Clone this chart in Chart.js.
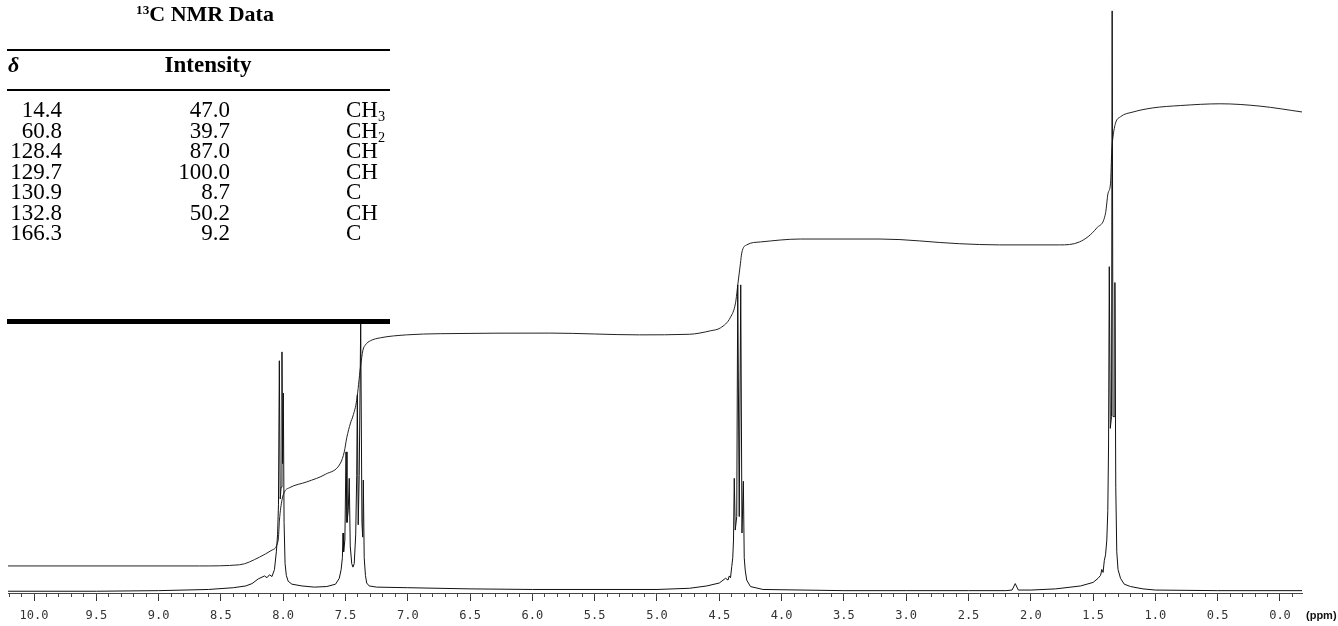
<!DOCTYPE html>
<html>
<head>
<meta charset="utf-8">
<title>1H NMR spectrum</title>
<script src="https://cdn.jsdelivr.net/npm/chart.js@4.4.1/dist/chart.umd.min.js"></script>
<style>
  body { margin: 0; background: #fff; }
  #wrap { position: relative; width: 1338px; height: 626px; overflow: hidden; }
  #myChart { position: absolute; left: 0; top: 0; }
  #tbl { position: absolute; left: 0; top: 0; width: 400px; height: 330px;
         font-family: "Liberation Serif", "Times New Roman", serif; color: #000; }
  #tbl div { position: absolute; white-space: nowrap; }
  #tbl .rule { background: #000; left: 7px; width: 383px; }
  #tbl sub { font-size: 0.62em; vertical-align: -0.3em; line-height: 0; }
  #tbl sup { font-size: 0.6em; vertical-align: 0.55em; line-height: 0; }
  #ppm { position: absolute; left: 1306px; top: 609px; font: bold 11px "Liberation Sans", Arial, sans-serif; color: #111; }
</style>
</head>
<body>
<div id="wrap">
  <canvas id="myChart" width="1338" height="626"></canvas>
  <div id="tbl"></div>
  <div id="ppm">(ppm)</div>
</div>
<script>
// 13C table
var cShift     = ["14.4", "60.8", "128.4", "129.7", "130.9", "132.8", "166.3"];
var cIntensity = ["47.0", "39.7", "87.0", "100.0", "8.7", "50.2", "9.2"];
var cType      = ["CH3", "CH2", "CH", "CH", "C", "CH", "C"];

// 1H spectrum trace (ppm, height)
var specPpm = [10.21, 9.50, 9.00, 8.60, 8.40, 8.30, 8.25, 8.20, 8.15, 8.13, 8.11, 8.09, 8.07, 8.055,
  8.045, 8.038, 8.031, 8.024, 8.017, 8.010, 8.005, 7.999, 7.993, 7.985, 7.975, 7.96, 7.93, 7.85, 7.75, 7.65,
  7.58, 7.55, 7.535, 7.525, 7.520, 7.515, 7.505, 7.496, 7.488, 7.478, 7.470, 7.462, 7.450, 7.440, 7.430,
  7.418, 7.410, 7.405, 7.398, 7.390, 7.378, 7.368, 7.362, 7.357, 7.350, 7.340, 7.330, 7.31, 7.25, 7.00,
  6.50, 6.00, 5.00, 4.74, 4.60, 4.50, 4.45, 4.43, 4.42, 4.41, 4.40, 4.392, 4.386, 4.380, 4.372, 4.360,
  4.352, 4.340, 4.328, 4.318, 4.307, 4.300, 4.292, 4.28, 4.25, 4.15, 3.50, 3.00, 2.50, 2.20, 2.15, 2.125,
  2.10, 2.00, 1.80, 1.60, 1.50, 1.46, 1.44, 1.43, 1.42, 1.41, 1.40, 1.39, 1.382, 1.376, 1.370, 1.362,
  1.352, 1.347, 1.340, 1.330, 1.325, 1.318, 1.310, 1.30, 1.28, 1.25, 1.20, 1.10, 1.00, 0.50, 0.00, -0.18];
var specVal = [0.3, 0.3, 0.4, 0.6, 0.9, 1.2, 1.6, 2.4, 2.9, 2.6, 3.1, 2.8, 4.0, 7.0,
  10, 15, 39.5, 16, 18, 41, 22, 34, 12, 5, 3, 2, 1.5, 1.2, 1.0, 1.1,
  1.5, 2.5, 4, 6, 10.2, 7, 9, 24, 12, 14, 19.5, 8, 5, 4.4, 5,
  10, 20, 33.7, 11.6, 20, 46, 12, 9.5, 19.2, 6, 3.0, 1.7, 1.2, 1.0, 0.9,
  0.7, 0.6, 0.6, 0.8, 1.2, 1.7, 2.5, 2.2, 2.9, 2.6, 4.5, 6, 9, 19.5, 10.7, 13,
  52.4, 13, 52.4, 10.2, 19, 6, 3.9, 2.2, 1.1, 0.6, 0.4, 0.4, 0.4, 0.4, 0.5, 1.6,
  0.5, 0.5, 0.7, 1.2, 1.8, 2.5, 3.0, 4.0, 3.5, 5.5, 6.5, 9, 14, 25, 55.5, 28,
  30, 99, 30, 30, 52.8, 18, 7, 4, 2.5, 1.5, 1.1, 0.7, 0.5, 0.4, 0.4, 0.4];

// integral trace (ppm, height)
var integPpm = [10.21, 8.67, 8.35, 8.19, 8.09, 8.04, 8.03, 8.01, 7.99, 7.95, 7.81, 7.66, 7.54, 7.51,
  7.49, 7.46, 7.44, 7.41, 7.38, 7.36, 7.34, 7.30, 7.22, 7.01, 6.74, 5.86, 5.14, 4.74, 4.57, 4.49, 4.41,
  4.37, 4.35, 4.33, 4.32, 4.28, 4.17, 3.85, 3.21, 2.57, 2.25, 1.77, 1.61, 1.47, 1.40, 1.38, 1.36, 1.35,
  1.34, 1.32, 1.28, 1.18, 1.02, 0.80, 0.48, 0.16, -0.18];
var integVal = [4.6, 4.6, 4.8, 6.1, 7.3, 9.0, 12.4, 15.8, 17.2, 17.9, 18.9, 20.2, 22.1, 24.0,
  26.4, 28.9, 30.1, 32.8, 38.4, 41.3, 42.2, 42.9, 43.4, 43.9, 44.1, 44.2, 43.9, 44.0, 44.6, 45.1, 46.9,
  49.3, 52.7, 56.1, 57.8, 59.2, 59.7, 60.2, 60.2, 59.4, 59.2, 59.2, 59.7, 62.1, 64.6, 68.0, 69.7, 75.3,
  77.6, 79.9, 81.0, 81.8, 82.5, 82.9, 83.2, 82.8, 81.8];

var ppmMin = -0.1766;
var ppmMax = 10.2087;

// table
var tbl = document.getElementById("tbl");
function put(html, x, y, align, style) {
  var d = document.createElement("div");
  d.innerHTML = html;
  d.style.top = (y - 13) + "px";
  d.style.lineHeight = "26px";
  if (align == "right") {
    d.style.left = (x - 200) + "px";
    d.style.width = "200px";
    d.style.textAlign = "right";
  } else if (align == "center") {
    d.style.left = (x - 150) + "px";
    d.style.width = "300px";
    d.style.textAlign = "center";
  } else {
    d.style.left = x + "px";
  }
  d.style.cssText += style || "";
  tbl.appendChild(d);
}
function rule(y, h) {
  var r = document.createElement("div");
  r.className = "rule";
  r.style.top = y + "px";
  r.style.height = h + "px";
  tbl.appendChild(r);
}
put("<sup>13</sup>C NMR Data", 205, 14, "center", "font-weight:bold;font-size:22px;");
rule(49, 1.5);
put("&delta;", 8, 65, "left", "font-weight:bold;font-style:italic;font-size:22px;");
put("Intensity", 208, 65, "center", "font-weight:bold;font-size:23px;");
rule(89, 1.5);
for (var i = 0; i < cShift.length; i++) {
  var y = 110 + i * 20.5;
  put(cShift[i], 62, y, "right", "font-size:23px;");
  put(cIntensity[i], 230, y, "right", "font-size:23px;");
  put(cType[i].replace(/(\d)/g, "<sub>$1</sub>"), 346, y, "left", "font-size:23px;");
}
rule(319, 4.5);

// chart
var specData = [];
for (var i = 0; i < specPpm.length; i++) specData.push({ x: specPpm[i], y: specVal[i] });
var integData = [];
for (var i = 0; i < integPpm.length; i++) integData.push({ x: integPpm[i], y: integVal[i] });

new Chart("myChart", {
  type: "line",
  data: {
    datasets: [{
      data: specData,
      borderColor: "#111",
      borderWidth: 1,
      pointRadius: 0,
      tension: 0
    }, {
      data: integData,
      borderColor: "#222",
      borderWidth: 1,
      pointRadius: 0,
      cubicInterpolationMode: "monotone"
    }]
  },
  options: {
    responsive: false,
    animation: false,
    events: [],
    layout: { padding: { left: 8, right: 36, top: 5, bottom: 0 } },
    plugins: { legend: { display: false }, tooltip: { enabled: false } },
    scales: {
      x: {
        type: "linear",
        reverse: true,
        min: ppmMin,
        max: ppmMax,
        position: "bottom",
        weight: 1,
        grid: { drawOnChartArea: false, drawTicks: true, tickLength: 8, tickColor: "#333", tickWidth: 1 },
        border: { display: true, color: "#444", width: 1 },
        ticks: {
          stepSize: 0.5,
          includeBounds: false,
          autoSkip: false,
          maxRotation: 0,
          padding: 8,
          color: "#333",
          font: { family: "DejaVu Sans Mono", size: 12 },
          callback: function (v) { return v.toFixed(1); }
        },
        afterFit: function (s) { s.height = 33; }
      },
      x2: {
        type: "linear",
        reverse: true,
        min: ppmMin,
        max: ppmMax,
        position: "bottom",
        weight: 0,
        grid: { drawOnChartArea: false, drawTicks: true, tickLength: 4, tickColor: "#444", tickWidth: 1 },
        border: { display: false },
        ticks: { display: false, stepSize: 0.1, includeBounds: false, autoSkip: false },
        afterFit: function (s) { s.height = 0; }
      },
      y: {
        display: false,
        min: 0,
        max: 100
      }
    }
  }
});
</script>
</body>
</html>
